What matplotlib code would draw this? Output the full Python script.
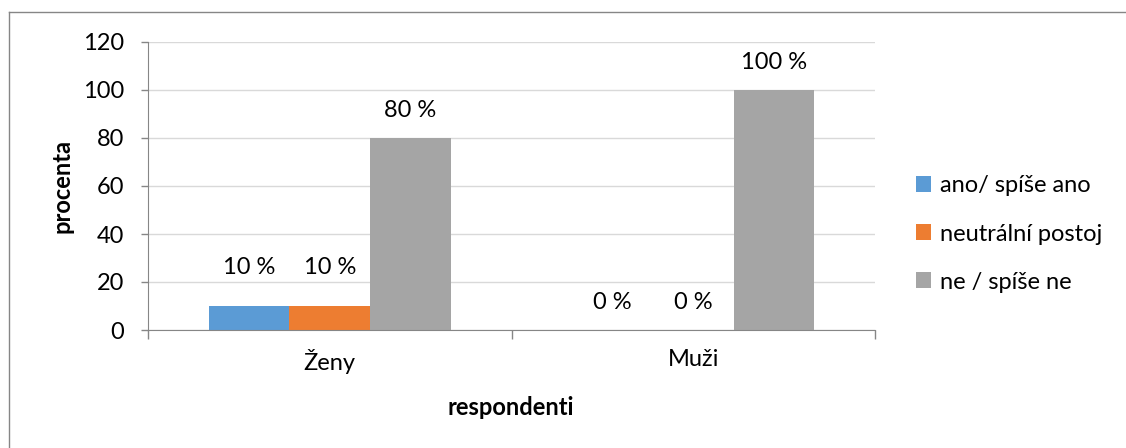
import matplotlib
matplotlib.use("Agg")
import matplotlib.pyplot as plt
from matplotlib.lines import Line2D
from matplotlib.patches import Patch
import numpy as np

categories = ["Ženy", "Muži"]
series_names = ["ano/ spíše ano", "neutrální postoj", "ne / spíše ne"]
series_values = [
    [10, 0],
    [10, 0],
    [80, 100],
]
colors = ["#5B9BD5", "#ED7D31", "#A5A5A5"]
y_ticks = [0, 20, 40, 60, 80, 100, 120]

plt.rcParams['font.family'] = ['Lato', 'DejaVu Sans']
FS = 17

W, H = 1126, 448
fig = plt.figure(figsize=(W / 100, H / 100), dpi=100)
ax = fig.add_axes([148 / W, (H - 330) / H, 727 / W, 288 / H])

n = len(series_names)
bw = 1 / (n + 1.5)
x = np.arange(len(categories))
for i, (name, vals, c) in enumerate(zip(series_names, series_values, colors)):
    pos = x + (i - (n - 1) / 2) * bw
    ax.bar(pos, vals, width=bw, color=c, label=name, zorder=3)
    for p, v in zip(pos, vals):
        off = 28 if v == 10 else 19.5
        ax.annotate(f"{v} %", (p, v), xytext=(0, off), textcoords='offset points',
                    ha='center', va='center', fontsize=FS, color='#000000', zorder=4)

ax.set_xlim(-0.5, len(categories) - 0.5)
ax.set_ylim(0, 120)
ax.set_yticks(y_ticks)
ax.set_yticklabels([str(t) for t in y_ticks], fontsize=FS)
ax.set_xticks(x)
ax.set_xticklabels(categories, fontsize=FS)
ax.set_xticks(np.arange(len(categories) + 1) - 0.5, minor=True)
ax.tick_params(axis='x', which='major', length=0, pad=14)
ax.tick_params(axis='x', which='minor', length=6.5, color='#868686', width=1)
ax.tick_params(axis='y', length=5, color='#868686', width=1, pad=12)
ax.grid(axis='y', color='#D9D9D9', linewidth=1, zorder=0)
for s in ['top', 'right']:
    ax.spines[s].set_visible(False)
ax.spines['bottom'].set_color('#868686')
ax.spines['left'].set_color('#868686')
ax.spines['bottom'].set_zorder(5)

fig.text(511 / W, 1 - 407 / H, "respondenti", ha='center', va='center', fontsize=FS, fontweight='bold')
fig.text(62 / W, 1 - 186 / H, "procenta", ha='center', va='center', rotation=90, fontsize=FS, fontweight='bold')

handles = [Patch(facecolor=c, edgecolor='none') for c in colors]
fig.legend(handles, series_names, loc='center left', bbox_to_anchor=(916 / W, 1 - 234 / H),
           frameon=False, fontsize=FS, handlelength=0.65, handleheight=0.65,
           handletextpad=0.35, labelspacing=1.15, borderaxespad=0, borderpad=0)

fig.add_artist(Line2D([9 / W, 9 / W], [0, 1 - 12 / H], color='#868686', linewidth=1, transform=fig.transFigure))
fig.add_artist(Line2D([9 / W, 1], [1 - 12 / H, 1 - 12 / H], color='#868686', linewidth=1, transform=fig.transFigure))

fig.savefig("out.png", dpi=100)
